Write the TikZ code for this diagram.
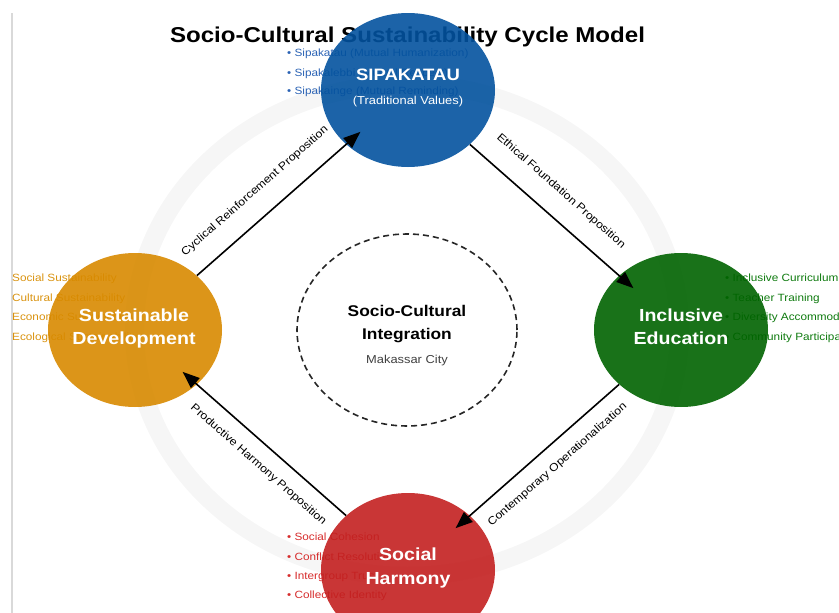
\documentclass[tikz,border=0pt]{standalone}
\usepackage{fontspec}
\setmainfont{Liberation Sans}[FakeStretch=1.12]
\usetikzlibrary{arrows.meta,shapes.geometric}

\definecolor{sipblue}{HTML}{03529E}
\definecolor{sustyellow}{HTML}{D88A00}
\definecolor{incgreen}{HTML}{006300}
\definecolor{harmred}{HTML}{C32020}
\definecolor{ringgray}{HTML}{F6F6F6}
\definecolor{edgegray}{HTML}{D9D9D9}
\definecolor{blueitem}{HTML}{2A62B4}
\definecolor{yellowitem}{HTML}{D9920E}
\definecolor{greenitem}{HTML}{0E7A0E}
\definecolor{reditem}{HTML}{D62C2C}
\definecolor{subgray}{HTML}{404040}

\tikzset{
  pillar/.style={ellipse, minimum width=174pt, minimum height=154pt,
    inner sep=0pt, fill=#1, fill opacity=0.9, draw=none},
  pillartext/.style={anchor=base, text=white, inner sep=0pt,
    font=\bfseries\fontsize{17.5}{20}\selectfont},
  item/.style={anchor=base west, text=#1, inner sep=0pt,
    font=\fontsize{10.5}{12}\selectfont},
  flow/.style={draw=black, line width=1.6pt,
    -{Triangle[length=17pt,width=13pt]}, shorten >=-19pt},
  flowlabel/.style={sloped, midway, inner sep=0pt,
    font=\fontsize{11}{13}\selectfont},
}

\begin{document}
\begin{tikzpicture}[x=1pt,y=-1pt]
  \useasboundingbox (0,0) rectangle (839,613);
  \clip (0,0) rectangle (839,613);

  % left margin rule
  \draw[edgegray, line width=2pt] (11.5,13) -- (11.5,613);

  % faint ring behind the cycle
  \fill[ringgray, even odd rule]
    (407,330) ellipse [x radius=282, y radius=255]
    (407,330) ellipse [x radius=263, y radius=237];

  % title
  \node[anchor=base, inner sep=0pt, font=\bfseries\fontsize{21.5}{24}\selectfont]
    (title) at (407.5,42) {Socio-Cultural Sustainability Cycle Model};

  % attribute lists
  \node[item=blueitem] (b1) at (287,56.6) {• Sipakatau (Mutual Humanization)};
  \node[item=blueitem] (b2) at (287,76.1) {• Sipakalebbi (Mutual Respect)};
  \node[item=blueitem] (b3) at (287,94.5) {• Sipakainge (Mutual Reminding)};

  \node[item=yellowitem] (y1) at (12,281.8) {Social Sustainability};
  \node[item=yellowitem] (y2) at (12,301.3) {Cultural Sustainability};
  \node[item=yellowitem] (y3) at (12,320.5) {Economic Sustainability};
  \node[item=yellowitem] (y4) at (12,340.3) {Ecological Sustainability};

  \node[item=greenitem] (g1) at (725,281.8) {• Inclusive Curriculum};
  \node[item=greenitem] (g2) at (725,301.3) {• Teacher Training};
  \node[item=greenitem] (g3) at (725,320.5) {• Diversity Accommodation};
  \node[item=greenitem] (g4) at (725,340.3) {• Community Participation};

  \node[item=reditem] (r1) at (287,540.5) {• Social Cohesion};
  \node[item=reditem] (r2) at (287,560.1) {• Conflict Resolution};
  \node[item=reditem] (r3) at (287,579.2) {• Intergroup Trust};
  \node[item=reditem] (r4) at (287,598.4) {• Collective Identity};

  % the four pillars
  \node[pillar=sipblue]    (blu) at (408,90)  {};
  \node[pillar=sustyellow] (yel) at (135,330) {};
  \node[pillar=incgreen]   (grn) at (681,330) {};
  \node[pillar=harmred]    (red) at (408,570) {};

  \node[pillartext, font=\bfseries\fontsize{16.5}{19}\selectfont]
    (bluA) at (408,80.2) {SIPAKATAU};
  \node[pillartext, font=\fontsize{11.5}{13}\selectfont]
    (bluB) at (408,104.6) {(Traditional Values)};
  \node[pillartext] (yelA) at (134,321) {Sustainable};
  \node[pillartext] (yelB) at (134,344.3) {Development};
  \node[pillartext] (grnA) at (681,321) {Inclusive};
  \node[pillartext] (grnB) at (681,344.3) {Education};
  \node[pillartext] (redA) at (408,560.3) {Social};
  \node[pillartext] (redB) at (408,584.3) {Harmony};

  % integration core
  \node[ellipse, draw=black!85, line width=1.6pt, dash pattern=on 6pt off 4pt,
    minimum width=220pt, minimum height=192pt, inner sep=0pt] (core) at (407,330) {};
  \node[anchor=base, inner sep=0pt, font=\bfseries\fontsize{15.5}{18}\selectfont]
    (coreA) at (407,316.3) {Socio-Cultural};
  \node[anchor=base, inner sep=0pt, font=\bfseries\fontsize{15.5}{18}\selectfont]
    (coreB) at (407,339.7) {Integration};
  \node[anchor=base, inner sep=0pt, text=subgray, font=\fontsize{11.5}{13}\selectfont]
    (coreC) at (407,363.8) {Makassar City};

  % cycle connectors
  \draw[flow] (yel) -- node[flowlabel, above=19pt] {Cyclical Reinforcement Proposition} (blu);
  \draw[flow] (blu) -- node[flowlabel, above=19pt] {Ethical Foundation Proposition} (grn);
  \draw[flow] (grn) -- node[flowlabel, below=14pt] {Contemporary Operationalization} (red);
  \draw[flow] (red) -- node[flowlabel, below=14pt] {Productive Harmony Proposition} (yel);
\end{tikzpicture}
\end{document}
